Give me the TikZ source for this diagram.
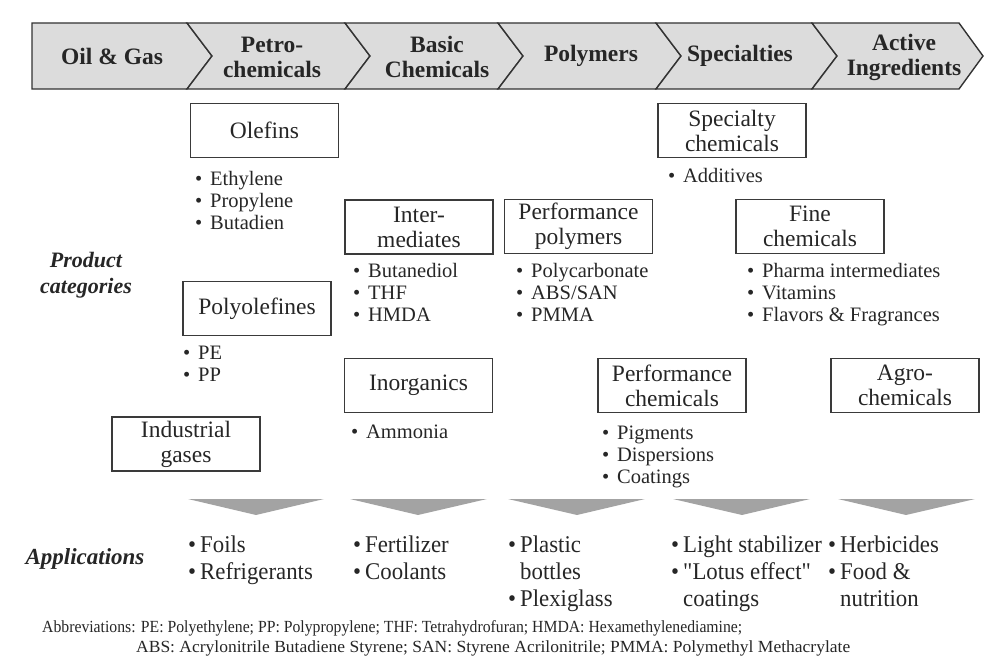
\documentclass[tikz,border=0pt]{standalone}
\usepackage{fontspec}
\usepackage{graphicx}
\setmainfont{Liberation Serif}
\newfontfamily\appfont{Liberation Serif}[FakeStretch=0.95]
\newfontfamily\abbfont{Liberation Serif}[FakeStretch=0.88]
\definecolor{txt}{HTML}{262626}
\definecolor{bandfill}{HTML}{DCDCDC}
\definecolor{bandline}{HTML}{333333}
\definecolor{boxline}{HTML}{3A3A3A}
\definecolor{arrowfill}{HTML}{A3A3A3}
\newcommand\lbul{\makebox[15pt][l]{\textbullet}}
\newcommand\abul{\makebox[12pt][l]{\textbullet}}
\newcommand\lfirst{\rule{0pt}{16pt}}
\newcommand\afirst{\rule{0pt}{19pt}}
\begin{document}
\begin{tikzpicture}[x=1pt,y=-1pt,
  band/.style={fill=bandfill,draw=bandline,line width=1.4pt,line join=miter},
  hdr/.style={font=\fontsize{23.5}{25}\selectfont\bfseries,text=txt,align=center,inner sep=0},
  cat/.style={draw=boxline,line width=1.2pt,minimum width=148pt,minimum height=54pt,inner sep=0,
              align=center,font=\fontsize{23.5}{25}\selectfont,text=txt},
  lst/.style={anchor=north west,inner sep=0,align=left,font=\fontsize{20.5}{22}\selectfont,text=txt},
  app/.style={anchor=north west,inner sep=0,align=left,font=\appfont\fontsize{24}{27}\selectfont,text=txt},
  side/.style={font=\fontsize{22}{26}\selectfont\bfseries\itshape,text=txt,align=center,inner sep=0},
  downarrow/.style={fill=arrowfill,draw=none},
  abb/.style={anchor=base west,inner sep=0,font=\abbfont\fontsize{17}{20}\selectfont,text=txt}]
\useasboundingbox (0,0) rectangle (985,669);
% value chain band
\draw[band] (32,23) -- (187,23) -- (212,56) -- (187,89) -- (32,89) -- cycle;
\draw[band] (187,23) -- (345,23) -- (370,56) -- (345,89) -- (187,89) -- (212,56) -- cycle;
\draw[band] (345,23) -- (498,23) -- (523,56) -- (498,89) -- (345,89) -- (370,56) -- cycle;
\draw[band] (498,23) -- (656,23) -- (681,56) -- (656,89) -- (498,89) -- (523,56) -- cycle;
\draw[band] (656,23) -- (812,23) -- (837,56) -- (812,89) -- (656,89) -- (681,56) -- cycle;
\draw[band] (812,23) -- (959,23) -- (983,56) -- (959,89) -- (812,89) -- (837,56) -- cycle;
\node[hdr] (h1) at (112,56) {Oil \& Gas};
\node[hdr] (h2) at (272,57) {Petro-\\chemicals};
\node[hdr] (h3) at (437,57) {Basic\\Chemicals};
\node[hdr] (h4) at (591,56) {Polymers};
\node[hdr] (h5) at (740,56) {Specialties};
\node[hdr] (h6) at (904,57) {Active\\Ingredients};
% side labels
\node[side] (pc) at (86,275) {Product\\categories};
\node[side,font=\fontsize{23}{26}\selectfont\bfseries\itshape] (ap) at (85,559) {Applications};
% category boxes
\node[cat] (olef) at (264.5,130.5) {Olefins};
\node[cat] (polyo) at (257,308.5) {Polyolefines};
\node[cat] (indg) at (186,444) {Industrial\\gases};
\node[cat] (inter) at (419,227) {Inter-\\mediates};
\node[cat] (inorg) at (418.5,385.5) {Inorganics};
\node[cat] (perfp) at (578.5,226.5) {Performance\\polymers};
\node[cat] (spec) at (732,130.5) {Specialty\\chemicals};
\node[cat] (fine) at (810,226.5) {Fine\\chemicals};
\node[cat] (perfc) at (672,385.5) {Performance\\chemicals};
\node[cat] (agro) at (905,385.5) {Agro-\\chemicals};
% bullet lists
\node[lst] (l-olef) at (195,169) {\lfirst\lbul Ethylene\\\lbul Propylene\\\lbul Butadien};
\node[lst] (l-polyo) at (183,343) {\lfirst\lbul PE\\\lbul PP};
\node[lst] (l-inter) at (353,261) {\lfirst\lbul Butanediol\\\lbul THF\\\lbul HMDA};
\node[lst] (l-inorg) at (351,422) {\lfirst\lbul Ammonia};
\node[lst] (l-perfp) at (516,261) {\lfirst\lbul Polycarbonate\\\lbul ABS/SAN\\\lbul PMMA};
\node[lst] (l-spec) at (668,166) {\lfirst\lbul Additives};
\node[lst] (l-fine) at (747,261) {\lfirst\lbul Pharma intermediates\\\lbul Vitamins\\\lbul Flavors \& Fragrances};
\node[lst] (l-perfc) at (602,423) {\lfirst\lbul Pigments\\\lbul Dispersions\\\lbul Coatings};
% down arrows
\fill[downarrow] (188,499) -- (324,499) -- (256,515) -- cycle;
\fill[downarrow] (350,499) -- (487,499) -- (418,515) -- cycle;
\fill[downarrow] (508,499) -- (645,499) -- (577,515) -- cycle;
\fill[downarrow] (673,499) -- (810,499) -- (742,515) -- cycle;
\fill[downarrow] (838,499) -- (975,499) -- (906,515) -- cycle;
% applications
\node[app] (a1) at (188,533) {\afirst\abul Foils\\\abul Refrigerants};
\node[app] (a2) at (353,533) {\afirst\abul Fertilizer\\\abul Coolants};
\node[app] (a3) at (508,533) {\afirst\abul Plastic\\\hspace*{12pt}bottles\\\abul Plexiglass};
\node[app] (a4) at (671,533) {\afirst\abul Light stabilizer\\\abul "Lotus effect"\\\hspace*{12pt}coatings};
\node[app] (a5) at (828,533) {\afirst\abul Herbicides\\\abul Food \&\\\hspace*{12pt}nutrition};
% abbreviations
\node[abb] (ab1) at (42,632) {\resizebox{700pt}{\height}{Abbreviations: PE: Polyethylene; PP: Polypropylene; THF: Tetrahydrofuran; HMDA: Hexamethylenediamine;}};
\node[abb] (ab2) at (136,652) {\resizebox{714pt}{\height}{ABS: Acrylonitrile Butadiene Styrene; SAN: Styrene Acrilonitrile; PMMA: Polymethyl Methacrylate}};
\end{tikzpicture}
\end{document}
